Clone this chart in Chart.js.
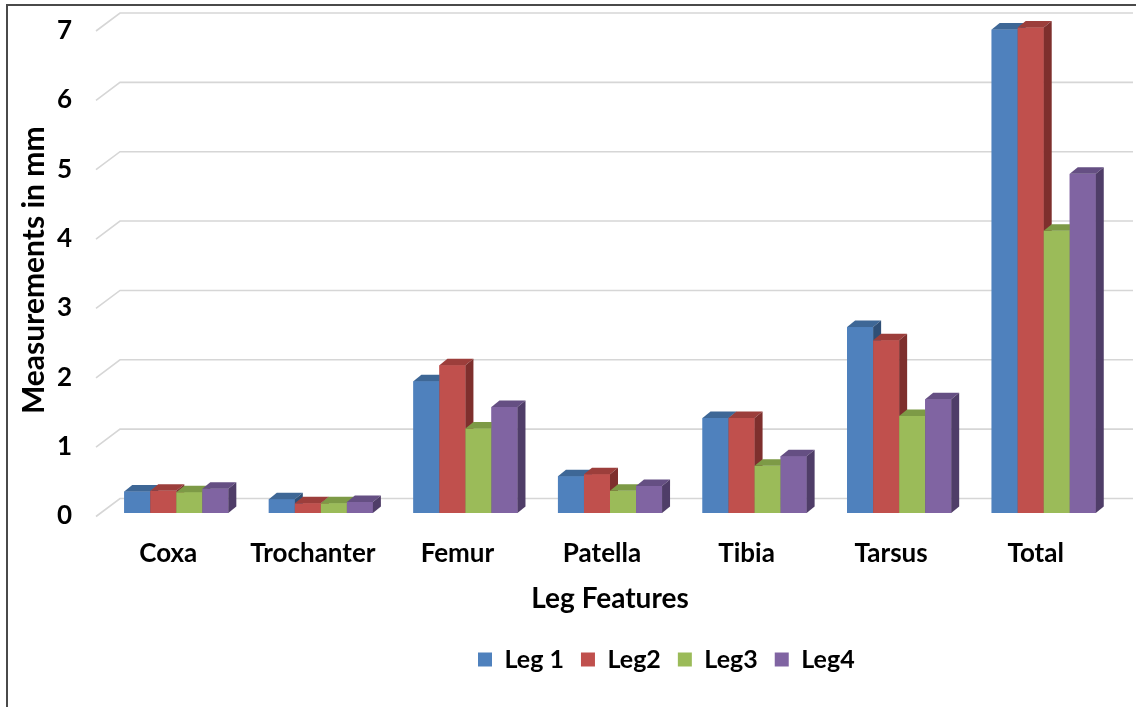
<!DOCTYPE html>
<html>
<head>
<meta charset="utf-8">
<script src="https://cdn.jsdelivr.net/npm/chart.js@4.4.1/dist/chart.umd.min.js"></script>
<style>
  html, body { margin: 0; padding: 0; background: #fff; }
  canvas { display: block; }
</style>
</head>
<body>
<canvas id="legChart" width="1136" height="707"></canvas>
<script>
/* ===================== DATA ===================== */
const categories = ["Coxa", "Trochanter", "Femur", "Patella", "Tibia", "Tarsus", "Total"];
const leg1 = [0.31, 0.20, 1.90, 0.53, 1.37, 2.68, 6.97];
const leg2 = [0.32, 0.14, 2.13, 0.56, 1.37, 2.49, 7.00];
const leg3 = [0.30, 0.14, 1.22, 0.32, 0.68, 1.40, 4.07];
const leg4 = [0.35, 0.16, 1.53, 0.39, 0.82, 1.64, 4.89];
const seriesNames = ["Leg 1", "Leg2", "Leg3", "Leg4"];
const yMin = 0;
const yMax = 7;
const yStep = 1;

/* ===================== STYLE ===================== */
const frontColors = ["#4F81BD", "#C0504D", "#9BBB59", "#8064A2"];
const topColors = ["#3E6796", "#9C3E3B", "#7D9A46", "#654F83"];
const sideColors = ["#2F4F76", "#7E2F2D", "#627A35", "#4F3D68"];
const FONT = "Lato, 'Open Sans', sans-serif";

// depth of each column, and of the back wall
const barDX = 8, barDY = 6.5;
const wallDX = 24, wallDY = 18;

/* ===================== PLUGINS ===================== */
const backWall = {
  id: "backWall",
  beforeDatasetsDraw(chart) {
    const { ctx, chartArea, scales } = chart;
    const y = scales.y;
    ctx.save();
    ctx.strokeStyle = "#d6d6d6";
    ctx.lineWidth = 1.6;
    y.ticks.forEach(t => {
      const py = y.getPixelForValue(t.value);
      ctx.beginPath();
      ctx.moveTo(chartArea.left - 8, py + 3.5);
      ctx.lineTo(chartArea.left - 8 + wallDX, py + 3.5 - wallDY);
      ctx.lineTo(chartArea.right + 17, py + 3.5 - wallDY);
      ctx.stroke();
    });
    ctx.restore();
  }
};

const columns3d = {
  id: "columns3d",
  afterDatasetsDraw(chart) {
    const { ctx } = chart;
    const metas = chart.data.datasets.map((d, i) => chart.getDatasetMeta(i));
    ctx.save();
    for (let j = 0; j < categories.length; j++) {
      metas.forEach((meta, i) => {
        const bar = meta.data[j];
        if (!bar) return;
        const { x, y, base, width } = bar.getProps(["x", "y", "base", "width"], true);
        const l = x - width / 2, r = x + width / 2;

        // front
        ctx.fillStyle = frontColors[i];
        ctx.fillRect(l, y, width, base - y);

        // top
        ctx.fillStyle = topColors[i];
        ctx.beginPath();
        ctx.moveTo(l, y);
        ctx.lineTo(r, y);
        ctx.lineTo(r + barDX, y - barDY);
        ctx.lineTo(l + barDX, y - barDY);
        ctx.closePath();
        ctx.fill();

        // side
        ctx.fillStyle = sideColors[i];
        ctx.beginPath();
        ctx.moveTo(r, y);
        ctx.lineTo(r + barDX, y - barDY);
        ctx.lineTo(r + barDX, base - barDY);
        ctx.lineTo(r, base);
        ctx.closePath();
        ctx.fill();
      });
    }
    ctx.restore();
  }
};

// the legend sits right of centre in the original, start it at a fixed x
const legendShift = {
  id: "legendShift",
  beforeDraw(chart) {
    const lg = chart.legend;
    if (!lg) return;
    const w = lg.right - lg.left;
    lg.left = 461;
    lg.right = 461 + w;
  }
};

const frame = {
  id: "frame",
  afterDraw(chart) {
    const { ctx } = chart;
    ctx.save();
    ctx.strokeStyle = "#4a4a4a";
    ctx.lineWidth = 2;
    ctx.beginPath();
    ctx.moveTo(7, 707);
    ctx.lineTo(7, 5);
    ctx.lineTo(1136, 5);
    ctx.stroke();
    ctx.restore();
  }
};

/* ===================== CHART ===================== */
const seriesData = [leg1, leg2, leg3, leg4];

const legChart = new Chart(document.getElementById("legChart"), {
  type: "bar",
  data: {
    labels: categories,
    datasets: seriesNames.map((name, i) => ({
      label: name,
      data: seriesData[i],
      backgroundColor: frontColors[i],
      borderWidth: 0,
      barPercentage: 1,
      categoryPercentage: 0.72,
      clip: false
    }))
  },
  options: {
    responsive: false,
    animation: false,
    devicePixelRatio: 1,
    layout: {
      padding: { left: 16, right: 20, top: 27.5, bottom: 25 }
    },
    scales: {
      x: {
        grid: { display: false, drawTicks: false },
        border: { display: false },
        ticks: {
          color: "#000",
          padding: 25,
          labelOffset: -8,
          font: { family: FONT, size: 26, weight: "bold" }
        },
        title: {
          display: true,
          text: "Leg Features",
          color: "#000",
          padding: { top: 0, bottom: 14 },
          font: { family: FONT, size: 28, weight: "bold" }
        },
        afterFit(scale) { scale.height = 117; }
      },
      y: {
        min: yMin,
        max: yMax,
        grid: { display: false, drawTicks: false },
        border: { display: false },
        ticks: {
          stepSize: yStep,
          color: "#000",
          padding: 32,
          labelOffset: 3,
          font: { family: FONT, size: 26, weight: "bold" }
        },
        title: {
          display: true,
          text: "Measurements in mm",
          color: "#000",
          padding: { top: 0, bottom: 0 },
          font: { family: FONT, size: 30, weight: "bold" }
        },
        afterFit(scale) {
          scale.width = 88;
          // tick padding would otherwise push the plot down
          scale.paddingTop = 0;
          scale.paddingBottom = 0;
        }
      }
    },
    plugins: {
      legend: {
        position: "bottom",
        align: "start",
        labels: {
          color: "#000",
          boxWidth: 14,
          boxHeight: 14,
          padding: 17,
          font: { family: FONT, size: 25, weight: "bold" }
        }
      },
      tooltip: { enabled: false }
    }
  },
  plugins: [backWall, columns3d, legendShift, frame]
});
</script>
</body>
</html>
